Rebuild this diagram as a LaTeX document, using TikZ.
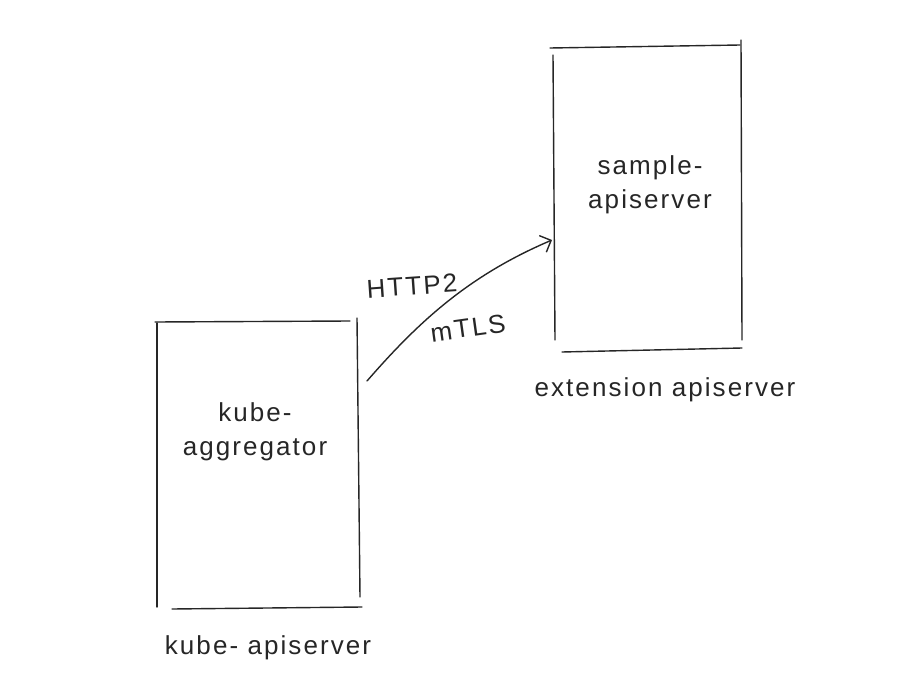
\documentclass[tikz,border=0pt]{standalone}
\usepackage{fontspec}
\setmainfont{Liberation Sans}
\newfontfamily\handfont[LetterSpace=8]{Liberation Sans}
\usetikzlibrary{arrows.meta}
\begin{document}
\begin{tikzpicture}[x=1pt,y=-1pt,
  stroke/.style={line width=1.4pt,black!85,line cap=round},
  hand/.style={font=\handfont\fontsize{26}{34}\selectfont,text=black!85,inner sep=0pt,align=center}]
\useasboundingbox (0,0) rectangle (921,685);
% left box (kube-apiserver)
\coordinate (l1) at (155,322); \coordinate (l2) at (350,321);
\coordinate (l3) at (157,323); \coordinate (l4) at (157,607);
\coordinate (l5) at (357,318); \coordinate (l6) at (360,597);
\coordinate (l7) at (172,609); \coordinate (l8) at (362,607);
\draw[stroke] (l1) -- (l2);
\draw[stroke] (l3) -- (l4);
\draw[stroke] (l5) -- (l6);
\draw[stroke] (l7) -- (l8);
% right box (extension apiserver)
\coordinate (r1) at (550,48); \coordinate (r2) at (740,45);
\coordinate (r3) at (553,55); \coordinate (r4) at (555,340);
\coordinate (r5) at (741,40); \coordinate (r6) at (742,340);
\coordinate (r7) at (562,352); \coordinate (r8) at (742,348);
\draw[stroke] (r1) -- (r2);
\draw[stroke] (r3) -- (r4);
\draw[stroke] (r5) -- (r6);
\draw[stroke] (r7) -- (r8);
% texts
\node[hand] (agg) at (255,432) {kube-\\aggregator};
\node[hand] (kas) at (268,648) {kube- apiserver};
\node[hand] (samp) at (650,185) {sample-\\apiserver};
\node[hand] (ext) at (665,390) {extension apiserver};
\node[hand,rotate=4] (http) at (412,286) {HTTP2};
\node[hand,rotate=8] (mtls) at (468,328) {mTLS};
% arrow
\coordinate (a0) at (367,381);
\coordinate (a1) at (552,240);
\draw[stroke,-{Straight Barb[length=9pt,width=18pt,line width=1.4pt]}] (a0) .. controls (420,320) and (470,275) .. (a1);
\end{tikzpicture}
\end{document}
